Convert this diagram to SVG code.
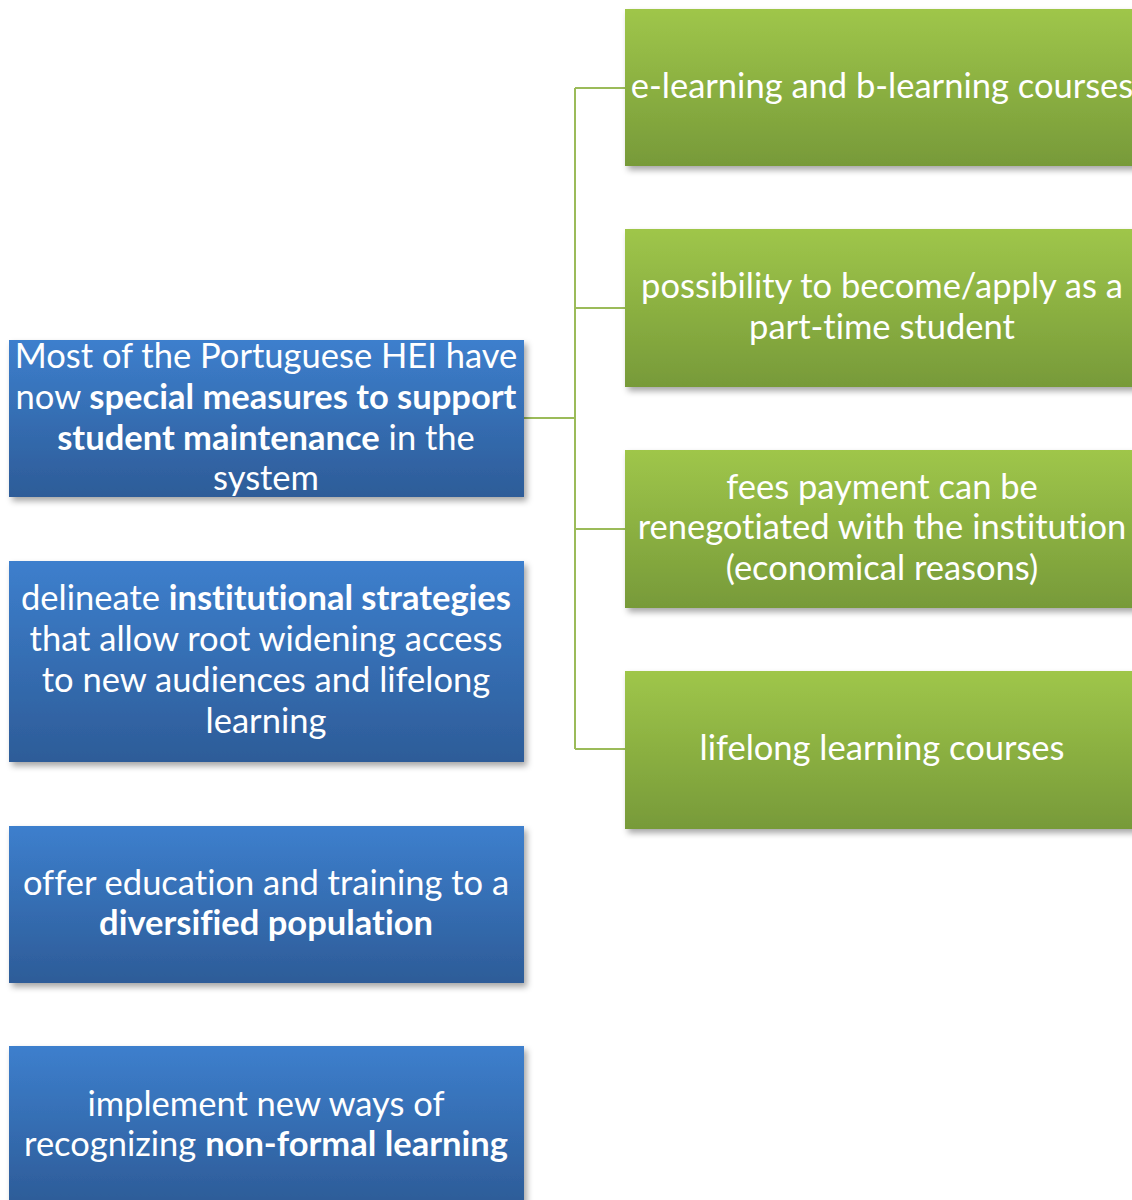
<svg xmlns="http://www.w3.org/2000/svg" width="1132" height="1200" viewBox="0 0 1132 1200">
  <defs>
    <linearGradient id="blueFill" x1="0" y1="0" x2="0" y2="1">
      <stop offset="0" stop-color="#3d7fcd"/>
      <stop offset="1" stop-color="#2d5c98"/>
    </linearGradient>
    <linearGradient id="greenFill" x1="0" y1="0" x2="0" y2="1">
      <stop offset="0" stop-color="#9fc64a"/>
      <stop offset="1" stop-color="#779a39"/>
    </linearGradient>
    <filter id="shadow" x="-5%" y="-10%" width="115%" height="125%">
      <feDropShadow dx="3" dy="4" stdDeviation="3" flood-color="#000" flood-opacity="0.35"/>
    </filter>
  </defs>
  <style>
    .blue { fill: url(#blueFill); filter: url(#shadow); }
    .green { fill: url(#greenFill); filter: url(#shadow); }
    .label { font-family: Lato, "Open Sans", sans-serif; font-size: 34.5px; fill: #ffffff; text-anchor: middle; font-variant-ligatures: none; }
    .b { font-weight: bold; }
    .link { fill: none; stroke: #9bbb59; stroke-width: 2; }
  </style>
  <rect width="1132" height="1200" fill="#ffffff"/>

  <!-- connectors from the first measure to its four sub-items -->
  <g id="connectors">
    <path class="link" d="M524 418 H575 M575 88 V749 M575 88 H625 M575 308 H625 M575 529 H625 M575 749 H625"/>
  </g>

  <g id="measure-support">
    <rect class="blue" x="9" y="340" width="515" height="157"/>
    <text class="label" x="266" y="368">Most of the Portuguese HEI have</text>
    <text class="label" x="266" y="409">now <tspan class="b">special measures to support</tspan></text>
    <text class="label" x="266" y="450"><tspan class="b">student maintenance</tspan> in the</text>
    <text class="label" x="266" y="490">system</text>
  </g>

  <g id="measure-strategies">
    <rect class="blue" x="9" y="561" width="515" height="201"/>
    <text class="label" x="266" y="610">delineate <tspan class="b">institutional strategies</tspan></text>
    <text class="label" x="266" y="651">that allow root widening access</text>
    <text class="label" x="266" y="692">to new audiences and lifelong</text>
    <text class="label" x="266" y="733">learning</text>
  </g>

  <g id="measure-population">
    <rect class="blue" x="9" y="826" width="515" height="157"/>
    <text class="label" x="266" y="895">offer education and training to a</text>
    <text class="label b" x="266" y="935">diversified population</text>
  </g>

  <g id="measure-recognition">
    <rect class="blue" x="9" y="1046" width="515" height="157"/>
    <text class="label" x="266" y="1116">implement new ways of</text>
    <text class="label" x="266" y="1156">recognizing <tspan class="b">non-formal learning</tspan></text>
  </g>

  <g id="item-elearning">
    <rect class="green" x="625" y="9" width="514" height="157"/>
    <text class="label" x="882" y="98">e-learning and b-learning courses</text>
  </g>

  <g id="item-parttime">
    <rect class="green" x="625" y="229" width="514" height="158"/>
    <text class="label" x="882" y="298">possibility to become/apply as a</text>
    <text class="label" x="882" y="339">part-time student</text>
  </g>

  <g id="item-fees">
    <rect class="green" x="625" y="450" width="514" height="158"/>
    <text class="label" x="882" y="499">fees payment can be</text>
    <text class="label" x="882" y="539">renegotiated with the institution</text>
    <text class="label" x="882" y="580">(economical reasons)</text>
  </g>

  <g id="item-lifelong">
    <rect class="green" x="625" y="671" width="514" height="158"/>
    <text class="label" x="882" y="760">lifelong learning courses</text>
  </g>
</svg>
